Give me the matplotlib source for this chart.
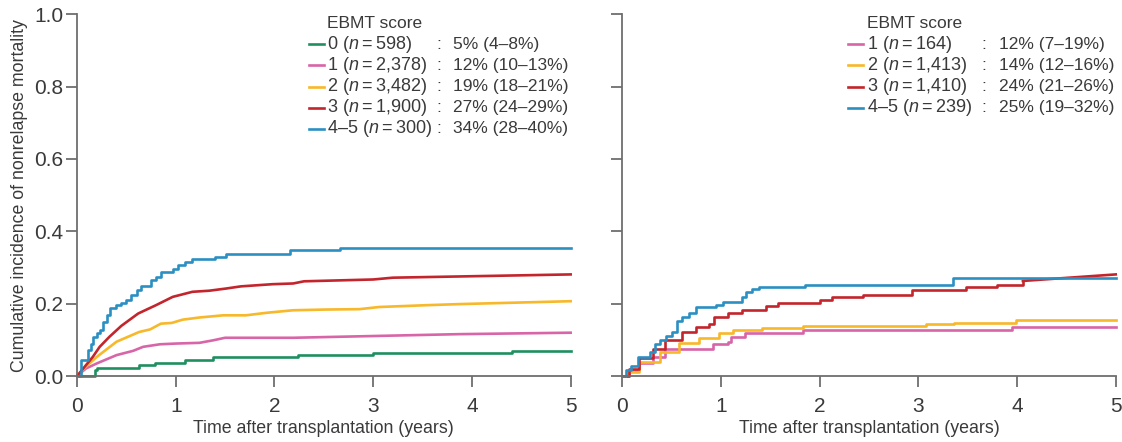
import matplotlib
matplotlib.use("Agg")
import matplotlib.pyplot as plt

plt.rcParams["font.family"] = ["Liberation Sans", "DejaVu Sans"]
plt.rcParams["mathtext.fontset"] = "custom"
plt.rcParams["mathtext.it"] = "Liberation Sans:italic"
plt.rcParams["mathtext.rm"] = "Liberation Sans"

GREEN = "#1f8f5f"
PINK = "#d865a8"
YELLOW = "#f7b829"
RED = "#c3252d"
BLUE = "#2b8fc2"

# ---- left panel (all patients) ----
l0_t = [0, 0.18, 0.20, 0.63, 0.79, 1.09, 1.38, 2.24, 3.00, 4.41, 5.0]
l0_y = [0, 0.017, 0.023, 0.030, 0.037, 0.044, 0.052, 0.058, 0.064, 0.070, 0.070]

l1_t = [0, 0.09, 0.20, 0.40, 0.57, 0.67, 0.84, 1.00, 1.24, 1.38, 1.50, 2.19, 2.86, 3.87, 5.0]
l1_y = [0, 0.021, 0.035, 0.058, 0.070, 0.081, 0.088, 0.090, 0.092, 0.099, 0.106, 0.106, 0.110, 0.116, 0.120]

l2_t = [0, 0.09, 0.20, 0.40, 0.63, 0.74, 0.85, 0.96, 1.07, 1.24, 1.48, 1.71, 1.92, 2.19, 2.52, 2.86, 3.06, 3.54, 3.87, 5.0]
l2_y = [0, 0.026, 0.053, 0.095, 0.122, 0.129, 0.145, 0.147, 0.156, 0.162, 0.168, 0.168, 0.175, 0.182, 0.184, 0.185, 0.191, 0.196, 0.199, 0.207]

l3_t = [0, 0.09, 0.16, 0.23, 0.33, 0.45, 0.62, 0.80, 0.97, 1.17, 1.34, 1.51, 1.66, 1.98, 2.19, 2.30, 3.00, 3.20, 5.0]
l3_y = [0, 0.030, 0.053, 0.081, 0.109, 0.139, 0.173, 0.196, 0.219, 0.233, 0.236, 0.242, 0.248, 0.254, 0.256, 0.262, 0.267, 0.272, 0.281]

l4_t = [0, 0.04, 0.11, 0.14, 0.16, 0.20, 0.23, 0.26, 0.30, 0.33, 0.40, 0.45, 0.50, 0.55, 0.61, 0.65,
        0.75, 0.80, 0.85, 0.97, 1.02, 1.09, 1.17, 1.40, 1.51, 2.16, 2.66, 5.0]
l4_y = [0, 0.044, 0.072, 0.090, 0.109, 0.118, 0.127, 0.150, 0.168, 0.187, 0.196, 0.201, 0.210, 0.224, 0.237, 0.248,
        0.265, 0.274, 0.288, 0.297, 0.306, 0.316, 0.323, 0.329, 0.337, 0.348, 0.355, 0.355]

# ---- right panel ----
r1_t = [0, 0.07, 0.17, 0.31, 0.44, 0.88, 0.92, 1.07, 1.10, 1.25, 1.83, 3.95, 5.0]
r1_y = [0, 0.017, 0.035, 0.053, 0.076, 0.076, 0.090, 0.095, 0.109, 0.118, 0.127, 0.136, 0.136]

r2_t = [0, 0.06, 0.17, 0.38, 0.58, 0.78, 0.98, 1.12, 1.42, 1.83, 3.08, 3.36, 3.99, 5.0]
r2_y = [0, 0.012, 0.040, 0.067, 0.092, 0.104, 0.118, 0.127, 0.132, 0.138, 0.144, 0.147, 0.155, 0.155]

r3_t = [0, 0.07, 0.17, 0.31, 0.44, 0.61, 0.75, 0.88, 0.93, 1.07, 1.22, 1.46, 1.58, 2.00, 2.13, 2.44, 2.94, 3.48, 3.80, 4.06, 5.0]
r3_y = [0, 0.021, 0.049, 0.076, 0.101, 0.122, 0.136, 0.144, 0.164, 0.175, 0.182, 0.193, 0.202, 0.210, 0.219, 0.224, 0.237, 0.245, 0.251, 0.263, 0.281]

r4_t = [0, 0.04, 0.09, 0.16, 0.28, 0.33, 0.38, 0.45, 0.51, 0.56, 0.61, 0.68, 0.75, 0.95, 1.02, 1.22, 1.26, 1.32, 1.39, 1.85, 3.35, 5.0]
r4_y = [0, 0.017, 0.028, 0.053, 0.067, 0.090, 0.101, 0.110, 0.122, 0.153, 0.164, 0.175, 0.191, 0.196, 0.205, 0.219, 0.233, 0.242, 0.245, 0.251, 0.272, 0.272]

left_labels = ["0 ($n$\u2009=\u2009598)", "1 ($n$\u2009=\u20092,378)", "2 ($n$\u2009=\u20093,482)",
               "3 ($n$\u2009=\u20091,900)", "4\u20135 ($n$\u2009=\u2009300)"]
left_values = ["5% (4\u20138%)", "12% (10\u201313%)", "19% (18\u201321%)", "27% (24\u201329%)", "34% (28\u201340%)"]
right_labels = ["1 ($n$\u2009=\u2009164)", "2 ($n$\u2009=\u20091,413)", "3 ($n$\u2009=\u20091,410)", "4\u20135 ($n$\u2009=\u2009239)"]
right_values = ["12% (7\u201319%)", "14% (12\u201316%)", "24% (21\u201326%)", "25% (19\u201332%)"]

# (times, values, colour, stepped, last segment drawn straight)
left_series = [(l0_t, l0_y, GREEN, True, False), (l1_t, l1_y, PINK, False, False),
               (l2_t, l2_y, YELLOW, False, False), (l3_t, l3_y, RED, False, False),
               (l4_t, l4_y, BLUE, True, False)]
right_series = [(r1_t, r1_y, PINK, True, False), (r2_t, r2_y, YELLOW, True, False),
                (r3_t, r3_y, RED, True, True), (r4_t, r4_y, BLUE, True, False)]

AX_GRAY = "#6e6e6e"
TXT = "#3a3a3a"
LW = 1.9

fig = plt.figure(figsize=(11.22, 4.42), dpi=100)
ax1 = fig.add_axes([0.0686, 0.149, 0.440, 0.819])
ax2 = fig.add_axes([0.5544, 0.149, 0.440, 0.819])


def style(ax, show_ylabels):
    ax.set_xlim(0, 5)
    ax.set_ylim(0, 1.0)
    ax.set_xticks([0, 1, 2, 3, 4, 5])
    ax.set_yticks([0, 0.2, 0.4, 0.6, 0.8, 1.0])
    ax.spines["top"].set_visible(False)
    ax.spines["right"].set_visible(False)
    for s in ("left", "bottom"):
        ax.spines[s].set_color(AX_GRAY)
        ax.spines[s].set_linewidth(1.3)
    ax.tick_params(direction="out", length=8, width=1.3, color=AX_GRAY,
                   labelsize=15, labelcolor=TXT)
    ax.tick_params(axis="x", pad=7)
    ax.tick_params(axis="y", pad=2)
    if show_ylabels:
        ax.set_yticklabels(["0.0", "0.2", "0.4", "0.6", "0.8", "1.0"])
    else:
        ax.set_yticklabels([])
    ax.set_xlabel("Time after transplantation (years)", fontsize=12.8, color=TXT, labelpad=3)


def draw(ax, series):
    for t, y, c, stepped, straight_tail in series:
        if straight_tail:
            ax.plot(t[:-1], y[:-1], color=c, lw=LW, drawstyle="steps-post", clip_on=False)
            ax.plot(t[-2:], y[-2:], color=c, lw=LW, clip_on=False)
        else:
            ax.plot(t, y, color=c, lw=LW, drawstyle="steps-post" if stepped else "default",
                    clip_on=False)


def legend(ax, series, labels, values, x_handle, x_label, x_colon, x_value):
    y0 = 0.917
    dy = 0.0585
    ax.text(x_label, 0.975, "EBMT score", transform=ax.transAxes, fontsize=12.5,
            color=TXT, va="center", ha="left")
    for i, (s, lab, val) in enumerate(zip(series, labels, values)):
        y = y0 - i * dy
        ax.plot(x_handle, [y, y], color=s[2], lw=LW, transform=ax.transAxes, clip_on=False)
        ax.text(x_label, y, lab, transform=ax.transAxes, fontsize=13, color=TXT, va="center")
        ax.text(x_colon, y, ":", transform=ax.transAxes, fontsize=12.5, color=TXT, va="center")
        ax.text(x_value, y, val, transform=ax.transAxes, fontsize=12.5, color=TXT, va="center")


draw(ax1, left_series)
draw(ax2, right_series)

style(ax1, True)
style(ax2, False)
ax1.set_ylabel("Cumulative incidence of nonrelapse mortality", fontsize=12.8, color=TXT, labelpad=4)

legend(ax1, left_series, left_labels, left_values, [0.470, 0.500], 0.506, 0.729, 0.761)
legend(ax2, right_series, right_labels, right_values, [0.457, 0.488], 0.496, 0.727, 0.763)

fig.savefig("out.png", dpi=100)
